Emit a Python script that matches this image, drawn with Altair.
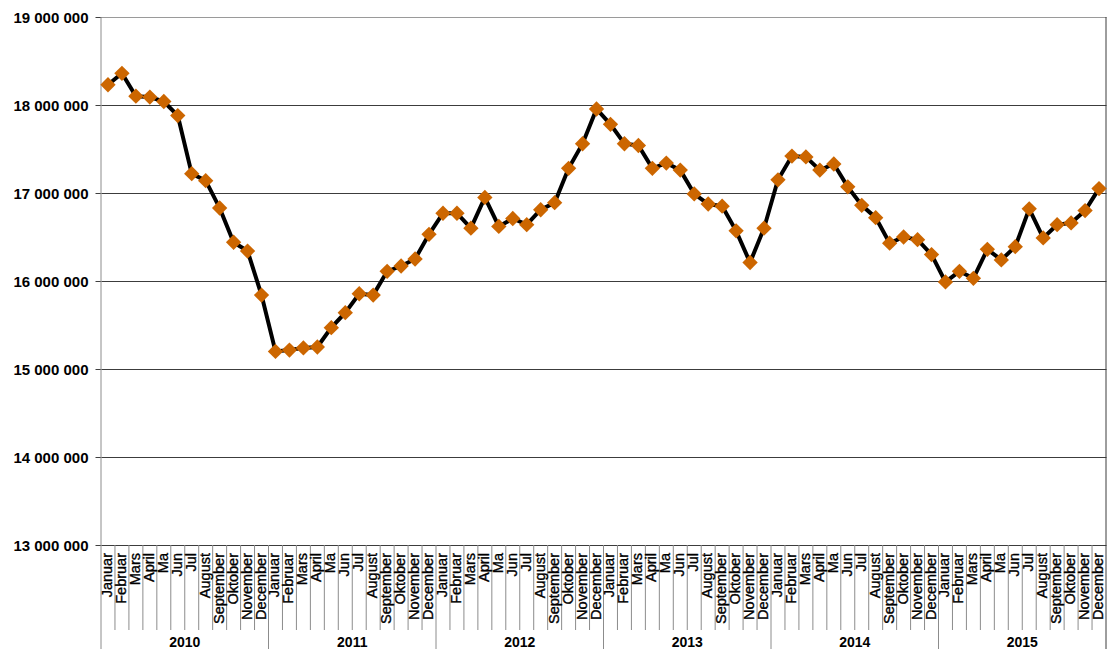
import altair as alt
import pandas as pd

years = ["2010", "2011", "2012", "2013", "2014", "2015"]
months = ["Januar", "Februar", "Mars", "April", "Ma", "Jun", "Jul",
          "August", "September", "Oktober", "November", "December"]
values_m = [
    18.23, 18.36, 18.10, 18.09, 18.04, 17.88, 17.22, 17.14, 16.83, 16.44, 16.34, 15.84,
    15.20, 15.215, 15.24, 15.25, 15.47, 15.64, 15.855, 15.84, 16.11, 16.17, 16.25, 16.53,
    16.77, 16.77, 16.60, 16.95, 16.62, 16.71, 16.64, 16.81, 16.89, 17.28, 17.56, 17.955,
    17.78, 17.56, 17.54, 17.28, 17.34, 17.26, 16.99, 16.875, 16.85, 16.57, 16.21, 16.60,
    17.15, 17.42, 17.41, 17.26, 17.33, 17.07, 16.86, 16.72, 16.43, 16.50, 16.47, 16.30,
    15.99, 16.11, 16.03, 16.36, 16.24, 16.39, 16.82, 16.49, 16.64, 16.66, 16.80, 17.05,
]
y_ticks = [13000000, 14000000, 15000000, 16000000, 17000000, 18000000, 19000000]

W, H = 1005, 528
BOTTOM = 104
FONT = "Liberation Sans"

rows = []
for i, v in enumerate(values_m):
    rows.append({"pos": i + 0.5, "value": v * 1_000_000,
                 "month": months[i % 12], "year": years[i // 12]})
df = pd.DataFrame(rows)

n = len(values_m)
month_sep = pd.DataFrame({"x": [k for k in range(1, n) if k % 12 != 0]})
year_sep = pd.DataFrame({"x": [k for k in range(12, n, 12)]})
year_lab = pd.DataFrame({"x": [6 + 12 * k for k in range(len(years))], "year": years})
edges = pd.DataFrame({"x": [0], "x2": [n]})

xs = alt.Scale(domain=[0, n], nice=False, zero=False)
ys = alt.Scale(domain=[13000000, 19000000], nice=False, zero=False)

base = alt.Chart(df)

line = base.mark_line(color="black", strokeWidth=4).encode(
    x=alt.X("pos:Q", scale=xs, axis=None),
    y=alt.Y("value:Q", scale=ys, title=None,
            axis=alt.Axis(values=y_ticks, domain=False, tickSize=6, tickColor="#404040",
                          labelPadding=7, labelFont=FONT, labelFontSize=15,
                          labelFontWeight="bold", labelColor="black",
                          labelExpr="replace(replace(format(datum.value, ','), ',', ' '), ',', ' ')",
                          gridColor={"condition": {"test": "datum.value === 19000000", "value": "#9a9a9a"},
                                     "value": "#3c3c3c"},
                          gridWidth=1)),
)

points = base.mark_point(shape="diamond", filled=True, color="#cc6600", opacity=1,
                         size=235).encode(
    x=alt.X("pos:Q", scale=xs, axis=None),
    y=alt.Y("value:Q", scale=ys),
)

msep = alt.Chart(month_sep).mark_rule(color="#8c8c8c", strokeWidth=1).encode(
    x=alt.X("x:Q", scale=xs, axis=None),
    y=alt.value(H), y2=alt.value(H + 85),
)

ysep = alt.Chart(year_sep).mark_rule(color="#8c8c8c", strokeWidth=1).encode(
    x=alt.X("x:Q", scale=xs, axis=None),
    y=alt.value(H), y2=alt.value(H + BOTTOM),
)

left_edge = alt.Chart(edges).mark_rule(color="#8c8c8c", strokeWidth=1).encode(
    x=alt.X("x:Q", scale=xs, axis=None),
    y=alt.value(0), y2=alt.value(H + BOTTOM),
)
right_edge = alt.Chart(edges).mark_rule(color="#3c3c3c", strokeWidth=1).encode(
    x=alt.X("x2:Q", scale=xs, axis=None),
    y=alt.value(0), y2=alt.value(H + BOTTOM),
)

mlabels = base.mark_text(angle=270, align="right", baseline="middle", font=FONT,
                         fontSize=14.5, color="black", stroke="black",
                         strokeWidth=0.35).encode(
    x=alt.X("pos:Q", scale=xs, axis=None),
    y=alt.value(H + 8),
    text="month:N",
)

ylabels = alt.Chart(year_lab).mark_text(align="center", baseline="middle", font=FONT,
                                        fontSize=14, fontWeight="bold", color="black").encode(
    x=alt.X("x:Q", scale=xs, axis=None),
    y=alt.value(H + 98),
    text="year:N",
)

chart = alt.layer(
    msep, ysep, left_edge, right_edge, line, points, mlabels, ylabels
).properties(
    width=W, height=H,
    autosize=alt.AutoSizeParams(type="none"),
    padding={"left": 93, "top": 9, "right": 1, "bottom": BOTTOM},
).configure_view(stroke=None)

chart.save("out.html", embed_options={"renderer": "svg", "actions": False})
